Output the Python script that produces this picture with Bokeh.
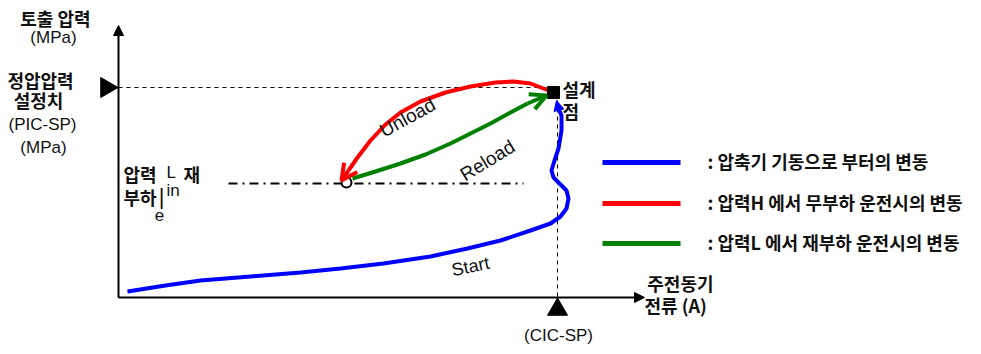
import numpy as np
from bokeh.plotting import figure
from bokeh.models import Range1d, Arrow, NormalHead, OpenHead
from bokeh.core.properties import value
from bokeh.embed import file_html
from bokeh.resources import INLINE

# ---- data (schematic coordinates) ----
blue_x = [127, 165, 200, 250, 300, 340, 383, 430, 467, 500, 530, 550, 560, 566, 568, 566, 560, 553, 551, 554, 558, 561, 561, 558]
blue_y = [291, 285, 280, 276, 272, 268, 263, 256, 248, 240, 230, 223, 216, 208, 198, 190, 184, 177, 170, 160, 148, 130, 115, 108]
red_x = [548, 530, 513, 495, 470, 445, 420, 400, 385, 370, 357, 348]
red_y = [90, 83, 81, 82, 86, 92, 101, 112, 124, 140, 157, 170]
green_x = [352, 375, 400, 425, 450, 470, 490, 510, 527]
green_y = [178, 171, 163, 154, 143, 133, 123, 112, 103]

origin = (118, 297)
pic_sp_y = 87
cic_sp_x = 557
reload_y = 183
design_pt = (553, 92)
reload_pt = (346, 182)

legend_labels = [": 압축기 기동으로 부터의 변동",
                 ": 압력H 에서 무부하 운전시의 변동",
                 ": 압력L 에서 재부하 운전시의 변동"]
legend_colors = ["#0000ff", "#ff0000", "#008000"]
legend_y = [160, 201, 241]

KR = value("Noto Sans CJK KR")
LAT = value("Liberation Sans")

p = figure(width=981, height=354, output_backend="svg", toolbar_location=None,
           x_range=Range1d(0, 981), y_range=Range1d(354, 0), min_border=0)
p.axis.visible = False
p.grid.visible = False
p.outline_line_color = None
p.background_fill_color = "white"

# axes with arrow heads
p.add_layout(Arrow(end=NormalHead(size=10, fill_color="black", line_color="black"),
                   x_start=origin[0], y_start=origin[1], x_end=origin[0], y_end=25,
                   line_width=2, line_color="black"))
p.add_layout(Arrow(end=NormalHead(size=10, fill_color="black", line_color="black"),
                   x_start=origin[0], y_start=origin[1], x_end=644, y_end=origin[1],
                   line_width=2, line_color="black"))

# reference lines
p.line([origin[0], design_pt[0]], [pic_sp_y, pic_sp_y], line_dash="4 4", line_color="black", line_width=1)
p.line([cic_sp_x, cic_sp_x], [100, origin[1]], line_dash="4 4", line_color="black", line_width=1)
p.line([228, 523], [reload_y, reload_y], line_dash="9 5 2 5", line_color="black", line_width=2)

# curves
p.line(blue_x, blue_y, line_color="#0000ff", line_width=4)
p.add_layout(Arrow(end=NormalHead(size=10, fill_color="#0000ff", line_color="#0000ff"),
                   x_start=blue_x[-1], y_start=blue_y[-1], x_end=556, y_end=100,
                   line_width=4, line_color="#0000ff"))
p.line(red_x, red_y, line_color="#ff0000", line_width=4)
p.add_layout(Arrow(end=OpenHead(size=16, line_color="#ff0000", line_width=4),
                   x_start=red_x[-1], y_start=red_y[-1], x_end=341, y_end=180,
                   line_width=4, line_color="#ff0000"))
p.line(green_x, green_y, line_color="#008000", line_width=4)
p.add_layout(Arrow(end=OpenHead(size=16, line_color="#008000", line_width=4),
                   x_start=green_x[-1], y_start=green_y[-1], x_end=546, y_end=95,
                   line_width=4, line_color="#008000"))

# markers
p.scatter([design_pt[0]], [design_pt[1]], marker="square", size=12, color="black")
p.scatter([reload_pt[0]], [reload_pt[1]], marker="circle", size=10, fill_color="white",
          line_color="black", line_width=2)
p.scatter([106], [pic_sp_y], marker="triangle", size=20, color="black", angle=-np.pi / 2)
p.scatter([cic_sp_x], [309], marker="triangle", size=20, color="black")

# legend
for c, yy, lab in zip(legend_colors, legend_y, legend_labels):
    p.line([602, 680], [yy + 2, yy + 2], line_color=c, line_width=5)
    p.text([707], [yy], text=[lab], text_font=KR, text_font_size="18px", text_font_style="bold",
           text_baseline="middle", text_align="left", text_color="#111111")


def t(x, y, s, font=KR, size="18px", align="center", angle=0.0, style="normal"):
    p.text([x], [y], text=[s], text_font=font, text_font_size=size, text_align=align,
           text_baseline="middle", angle=angle, text_color="#111111", text_font_style=style)


t(57, 17, "토출  압력", style="bold")
t(53, 37, "(MPa)", font=LAT, size="17px")
t(40, 79, "정압압력", style="bold")
t(38, 99, "설정치", style="bold")
t(42, 124, "(PIC-SP)", font=LAT, size="17px")
t(43, 147, "(MPa)", font=LAT, size="17px")

t(123, 173, "압력", align="left", style="bold")
t(166, 172, "L", font=LAT, align="left", size="17px")
t(183, 173, "재", align="left", style="bold")
t(123, 196, "부하", align="left", style="bold")
t(161, 196, "|", font=LAT, align="center", size="22px")
t(166, 190, "in", font=LAT, align="left", size="17px")
t(159, 214, "e", font=LAT, align="center", size="17px")

t(562, 88, "설계", align="left", style="bold")
t(562, 110, "점", align="left", style="bold")

t(407, 117, "Unload", font=LAT, angle=0.5, size="19px")
t(487, 160, "Reload", font=LAT, angle=0.55, size="19px")
t(470, 266, "Start", font=LAT, angle=0.2, size="18px")

t(713, 282, "주전동기", align="right", style="bold")
t(644, 304, "전류 (A)", align="left", style="bold")
t(558, 335, "(CIC-SP)", font=LAT, size="17px")

open("out.html", "w").write(file_html(p, INLINE))
